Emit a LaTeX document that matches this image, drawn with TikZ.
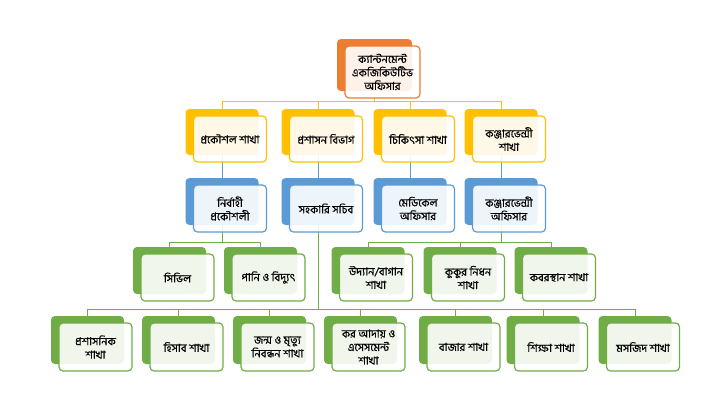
\documentclass[tikz,border=0pt]{standalone}
\usepackage{fontspec}
\newfontfamily\bnfont[Script=Bengali,FakeBold=0.6]{Hind Siliguri}
\usetikzlibrary{backgrounds}
\definecolor{cOrange}{HTML}{ED7D31}
\definecolor{cYellow}{HTML}{FFC000}
\definecolor{cBlue}{HTML}{5B9BD5}
\definecolor{cGreen}{HTML}{70AD47}
\tikzset{
  backbox/.style={draw=none, fill=#1, rounded corners=4pt, inner sep=0pt},
  frontbox/.style={draw=#1, line width=1.2pt, fill=white, fill opacity=0.9, text opacity=1,
    rounded corners=4pt, inner sep=1pt, align=center, text=black,
    font=\bnfont\fontsize{11}{13.5}\selectfont},
  conn/.style={draw=#1, line width=1pt},
}
\newcommand\obox[7]{%
  \node[backbox=#6, minimum width=#4pt, minimum height=#5pt] (b#1) at ({#2},{#3+#5/2}) {};
  \node[frontbox=#6, minimum width=#4pt, minimum height=#5pt] (f#1) at ({#2+8},{#3+#5/2+7}) {#7};
}
\begin{document}
\begin{tikzpicture}[x=1pt,y=-1pt]
\useasboundingbox (0,0) rectangle (720,410);
% level 0
\obox{0}{374.5}{39}{75}{52}{cOrange}{ক্যান্টনমেন্ট\\একজিকিউটিভ\\অফিসার}
% level 1
\obox{11}{222}{109}{73}{46}{cYellow}{প্রকৌশল শাখা}
\obox{12}{318}{109}{73}{46}{cYellow}{প্রশাসন বিভাগ}
\obox{13}{410}{109}{73}{46}{cYellow}{চিকিৎসা শাখা}
\obox{14}{501}{109}{73}{46}{cYellow}{কঞ্জারভেন্সী\\শাখা}
% level 2
\obox{21}{222}{178}{73}{47}{cBlue}{নির্বাহী\\প্রকৌশলী}
\obox{22}{318}{178}{73}{47}{cBlue}{সহকারি সচিব}
\obox{23}{410}{178}{73}{47}{cBlue}{মেডিকেল\\অফিসার}
\obox{24}{501}{178}{73}{47}{cBlue}{কঞ্জারভেন্সী\\অফিসার}
% level 3
\obox{31}{169.5}{247}{73}{47}{cGreen}{সিভিল}
\obox{32}{260.5}{247}{73}{47}{cGreen}{পানি ও বিদ্যুৎ}
\obox{33}{368}{247}{73}{47}{cGreen}{উদ্যান/বাগান\\শাখা}
\obox{34}{460}{247}{73}{47}{cGreen}{কুকুর নিধন\\শাখা}
\obox{35}{551}{247}{73}{47}{cGreen}{কবরস্থান শাখা}
% level 4
\obox{41}{87.5}{316}{73}{48}{cGreen}{প্রশাসনিক\\শাখা}
\obox{42}{178.5}{316}{73}{48}{cGreen}{হিসাব শাখা}
\obox{43}{269.5}{316}{73}{48}{cGreen}{জন্ম ও মৃত্যু\\নিবন্ধন শাখা}
\obox{44}{360.5}{316}{73}{48}{cGreen}{কর আদায় ও\\এসেসমেন্ট\\শাখা}
\obox{45}{455.5}{316}{73}{48}{cGreen}{বাজার শাখা}
\obox{46}{543}{316}{73}{48}{cGreen}{শিক্ষা শাখা}
\obox{47}{635}{316}{73}{48}{cGreen}{মসজিদ শাখা}
\begin{scope}[on background layer]
  \coordinate (j0) at (374.5,101);
  \draw[conn=cYellow] (b0.south) -- (j0);
  \foreach \c in {11,12,13,14} \draw[conn=cYellow] (j0) -| (b\c.north);
  \foreach \p/\c in {11/21,12/22,13/23,14/24} \draw[conn=cBlue] (b\p.south) -- (b\c.north);
  \coordinate (j21) at (222,242);
  \draw[conn=cGreen] (b21.south) -- (j21);
  \foreach \c in {31,32} \draw[conn=cGreen] (j21) -| (b\c.north);
  \coordinate (j24) at (501,242);
  \draw[conn=cGreen] (b24.south) -- (j24);
  \foreach \c in {33,34,35} \draw[conn=cGreen] (j24) -| (b\c.north);
  \coordinate (j22) at (318,309);
  \draw[conn=cGreen] (b22.south) -- (j22);
  \foreach \c in {41,42,43,44,45,46,47} \draw[conn=cGreen] (j22) -| (b\c.north);
\end{scope}
\end{tikzpicture}
\end{document}
